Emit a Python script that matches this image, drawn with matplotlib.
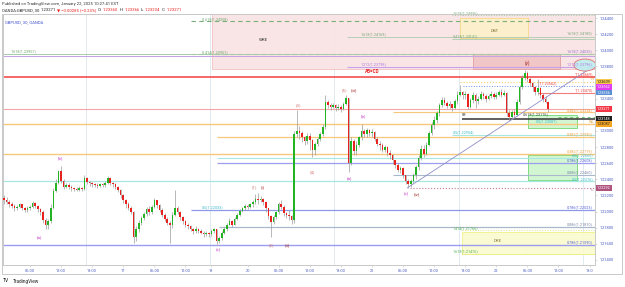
import matplotlib.pyplot as plt
from matplotlib.patches import Rectangle, Ellipse

plt.rcParams['font.family'] = ['Roboto', 'DejaVu Sans']

W, H = 625, 287

# GBPUSD 30m candles, index 0 = 16 Jan 01:00 EST, values are pips above 1.2000
first_open = 217
close_pips = [214, 212, 210, 207, 204, 206, 209, 205, 202, 204, 206, 211, 207, 203, 200, 190, 184, 188, 205, 226,
              236, 250, 238, 231, 233, 231, 229, 228, 227, 229, 228, 242, 237, 235, 234, 233, 232, 234, 233, 236,
              242, 236, 234, 231, 227, 220, 214, 210, 205, 200, 168, 178, 186, 192, 197, 203, 199, 206, 214, 208,
              202, 196, 191, 186, 183, 196, 205, 200, 193, 188, 184, 182, 179, 176, 178, 176, 174, 172, 173, 172,
              176, 178, 163, 167, 174, 178, 184, 188, 184, 191, 196, 201, 204, 207, 206, 209, 212, 216, 214, 216,
              212, 204, 195, 187, 193, 199, 209, 206, 198, 196, 194, 190, 296, 300, 297, 292, 288, 294, 289, 276,
              284, 290, 296, 305, 336, 332, 330, 332, 328, 330, 327, 334, 341, 260, 288, 275, 283, 292, 300, 296,
              301, 297, 299, 290, 284, 283, 277, 280, 273, 270, 264, 258, 252, 254, 245, 238, 234, 238, 246, 255,
              266, 278, 272, 283, 297, 307, 313, 322, 332, 338, 335, 331, 333, 329, 337, 345, 348, 344, 346, 330,
              338, 345, 337, 340, 346, 343, 340, 343, 346, 342, 345, 348, 345, 347, 322, 317, 323, 320, 336, 354,
              366, 372, 364, 360, 354, 348, 353, 345, 340, 336.0, 327.1]
high_pips = [220, 218, 214, 212, 209, 208, 211, 210, 206, 207, 208, 213, 212, 208, 204, 202, 192, 191, 209, 229,
             241, 252, 256, 240, 236, 235, 233, 231, 231, 232, 231, 245, 243, 238, 237, 236, 235, 236, 236, 238,
             244, 243, 237, 235, 232, 228, 222, 216, 212, 207, 201, 182, 190, 195, 200, 206, 207, 208, 217, 215,
             210, 204, 198, 193, 188, 199, 227, 207, 201, 195, 190, 186, 184, 180, 182, 180, 178, 176, 176, 175,
             178, 180, 178, 170, 176, 181, 186, 192, 190, 193, 198, 203, 206, 209, 209, 211, 214, 222, 223, 219,
             217, 213, 205, 196, 196, 201, 212, 214, 208, 200, 202, 196, 300, 326, 306, 300, 294, 297, 297, 290,
             286, 293, 299, 309, 345, 338, 335, 335, 334, 333, 332, 336, 345, 341, 292, 290, 287, 294, 309, 302,
             304, 303, 302, 300, 292, 287, 285, 283, 281, 276, 271, 264, 260, 257, 255, 246, 240, 240, 248, 258,
             270, 282, 283, 286, 300, 311, 318, 325, 335, 342, 342, 337, 337, 334, 339, 350, 357, 350, 349, 347,
             341, 348, 347, 343, 350, 348, 346, 346, 349, 348, 348, 351, 352, 351, 348, 326, 326, 327, 339, 357,
             369, 376, 374, 367, 361, 356, 365, 355, 347, 343, 336.6]
low_pips = [210, 209, 206, 204, 201, 202, 205, 202, 199, 200, 202, 205, 204, 200, 196, 186, 179, 178, 186, 203,
            224, 234, 236, 228, 229, 228, 226, 225, 225, 226, 225, 227, 234, 232, 231, 230, 229, 230, 230, 231,
            234, 233, 231, 228, 224, 217, 211, 205, 202, 197, 161, 164, 175, 183, 189, 194, 196, 197, 204, 205,
            199, 193, 188, 183, 161, 180, 194, 197, 190, 185, 181, 178, 176, 172, 173, 173, 172, 169, 170, 169,
            170, 174, 160, 161, 165, 172, 176, 183, 181, 183, 189, 194, 199, 202, 203, 204, 206, 210, 210, 212,
            208, 199, 191, 168, 185, 191, 197, 203, 195, 192, 190, 185, 186, 292, 290, 286, 283, 284, 276, 268,
            270, 281, 287, 294, 303, 328, 326, 328, 325, 326, 324, 326, 332, 249, 258, 270, 270, 280, 289, 292,
            293, 294, 292, 287, 281, 277, 274, 274, 269, 265, 259, 254, 249, 248, 242, 234, 229, 230, 236, 241,
            252, 264, 268, 270, 281, 295, 303, 310, 318, 330, 332, 328, 328, 325, 327, 334, 343, 340, 340, 327,
            328, 335, 328, 334, 338, 339, 336, 338, 341, 339, 340, 343, 342, 343, 319, 312, 315, 316, 318, 334,
            352, 363, 361, 356, 350, 345, 345, 341, 336, 335, 323.4]

# time axis
tick_idx = [10, 22, 34, 46, 58, 70, 80, 94, 106, 118, 130, 142, 154, 166, 178, 190, 202, 214, 226]
tick_lbl = ['06:00', '12:00', '18:00', '17', '06:00', '12:00', '19', '20', '06:00', '12:00', '18:00', '21',
            '06:00', '12:00', '18:00', '22', '06:00', '12:00', '18:0']
session_idx = [32, 80, 128, 176, 224]
price_ticks = [1.244, 1.242, 1.240, 1.238, 1.234, 1.230, 1.228, 1.226, 1.224, 1.222, 1.220, 1.218, 1.216, 1.214]

# horizontal drawings: price, first candle, last candle
lvl_price = [1.24358, 1.23951, 1.23957, 1.23935, 1.24169, 1.24141, 1.24436, 1.23797, 1.23669, 1.23609,
             1.23557, 1.23470, 1.23271, 1.23234, 1.23148, 1.23176, 1.23087, 1.22954, 1.22930, 1.22719,
             1.22665, 1.22608, 1.22460, 1.22376, 1.22292, 1.22023, 1.21810, 1.21590, 1.21766, 1.21476]
lvl_from = [72, 72, -1, -1, 132.5, 173, 173, 132.5, -1, 176, 177, 206, -1, 150, 176.8, 214, -1, 173, 82, -1,
            82, 82, 150, -1, 156.7, 72, 83, -1, 176.8, 176.8]
lvl_to = [229] * 30

# fib / level captions: text, candle, price
cap_text = ['-0.618(1.24358)', '-0.414(1.23951)', '1.618(1.23957)', '1.618(1.24169)', '0.414(1.24141)',
            '1.618(1.24180)', '1.618(1.24436)', '1.618(1.24025)', '1.272(1.23798)', '1.272(1.23796)',
            '1(1.23669)', '1(1.23562)', '1(1.23470)', '0.382(1.23234)', '0.618(1.23176)', '0.5(1.23087)',
            '0.5(1.22954)', '0.382(1.22930)', '0.382(1.22719)', '0.5(1.22665)', '0.786(1.22608)',
            '0.886(1.22460)', '0.5(1.22376)', '0.5(1.22033)', '0.786(1.22023)', '0.886(1.21810)',
            '1.414(1.21766)', '0.786(1.21590)', '1.618(1.21476)']
cap_idx = [76.4, 76.4, 2.6, 137.6, 173.3, 227.3, 173.3, 227.3, 137.6, 227.3,
           227.3, 213.5, 227.3, 227.3, 200.3, 213.5, 173.3, 227.3, 227.3, 227.3, 227.3,
           227.3, 227.3, 76.4, 227.3, 227.3, 173.3, 227.3, 173.3]
cap_price = [1.24358, 1.23951, 1.23957, 1.24169, 1.24141, 1.24180, 1.24436, 1.23957, 1.23797, 1.23797,
             1.23669, 1.23557, 1.23470, 1.23234, 1.23176, 1.23087, 1.22954, 1.22930, 1.22719, 1.22665,
             1.22608, 1.22460, 1.22376, 1.22023, 1.22023, 1.21810, 1.21766, 1.21590, 1.21476]

# boxes: first candle, last candle, bottom price, top price, caption
box_from = [80.3, 176, 181, 202.3, 202.3, 176.8]
box_to = [229, 202.3, 214.6, 221.2, 221.2, 229]
box_low = [1.23768, 1.24152, 1.23768, 1.23036, 1.22392, 1.21474]
box_high = [1.2450, 1.2440, 1.23954, 1.23198, 1.22702, 1.21747]
box_text = ['WRE', 'DRE', '(v)', '', '', 'DRE']

# elliott wave captions: text, candle, price
wave_text = ['(a)', '(b)', '(c)', '(1)', '(i)', '(2)', '(ii)', '(3)', '(4)', '(5)', '(iii)',
             '(a)', '(b)', '(c)', '(iv)']
wave_idx = [13.7, 21.6, 82.7, 96.6, 99.8, 103.4, 109.4, 113.5, 118.9, 131.4, 135.2, 133.5, 138.6, 155.4, 159.4]
wave_price = [1.21673, 1.22665, 1.21524, 1.22305, 1.22305, 1.21586, 1.21586, 1.23322, 1.22491, 1.23507,
              1.23507, 1.22404, 1.23185, 1.22218, 1.22218]

# axis tags: price, text
tag_price = [1.23609, 1.23562, 1.23556, 1.23271, 1.23148, 1.23087, 1.22292]
tag_text = ['1.23609', '1.23562', '1.23556', '1.23271', '1.23148', '1.23087', '1.22292']

# trend line from the (iv) low to the ellipse
trend_idx = [155.6, 227.4]
trend_price = [1.22293, 1.23799]

# ------------------------------------------------------------------
fig = plt.figure(figsize=(W / 100, H / 100), dpi=100)
ax = fig.add_axes([3 / W, 1 - 265 / H, 592 / W, 251 / H])
ax.set_xlim(-0.42, 228.1)
ax.set_ylim(1.21338, 1.24450)

for s in ax.spines.values():
    s.set_color('#c9c9c9')
    s.set_linewidth(0.7)

ax.set_xticks(tick_idx)
ax.set_xticklabels(tick_lbl)
ax.yaxis.tick_right()
ax.set_yticks(price_ticks)
ax.set_yticklabels(['%.5f' % p for p in price_ticks])
ax.tick_params(axis='both', labelsize=2.9, colors='#c0c0c0', labelcolor='#4a5cc0', length=1.5, width=0.4, pad=1.6)

for i in session_idx:
    ax.axvline(i - 0.5, color='#dbe6ef', lw=0.6, zorder=0)

# boxes
box_face = ['#f9e3e3', '#fdf1c9', '#f1c3c3', '#cdf5cd', '#cdf5cd', '#fbfbcf']
box_edge = ['#f1bcbc', '#f5d77d', '#e09a9a', '#63d463', '#63d463', '#eef07f']
for k in range(len(box_from)):
    ax.add_patch(Rectangle((box_from[k], box_low[k]), box_to[k] - box_from[k], box_high[k] - box_low[k],
                           facecolor=box_face[k], edgecolor=box_edge[k], lw=0.6, alpha=0.9, zorder=1))
ax.text(100, 1.24127, box_text[0], fontsize=3.2, color='#333', ha='center', va='center', zorder=6)
ax.text(189.5, 1.24235, box_text[1], fontsize=3.2, color='#8a7a40', ha='center', va='center', style='italic',
        zorder=6)
ax.text(201.9, 1.23842, box_text[2], fontsize=3.4, color='#a01818', ha='center', va='center', zorder=6)
ax.text(190.5, 1.21640, box_text[5], fontsize=3.2, color='#8a7a40', ha='center', va='center', zorder=6)

# level lines
lvl_style = [('#79b079', 0.8, (0, (4, 3))), ('#79b079', 0.8, (0, (4, 3))), ('#a9cba9', 0.7, '-'),
             ('#c8a0e6', 0.7, '-'), ('#b5cfb5', 0.7, '-'), ('#b5cfb5', 0.7, '-'), ('#a9cba9', 0.7, ':'),
             ('#c6a2ee', 0.8, '-'), ('#f45a5a', 1.3, '-'), ('#f6cf62', 0.8, ':'), ('#6b8fe0', 0.7, ':'),
             ('#f27c7c', 0.8, '-'), ('#f4a6a6', 0.8, '-'), ('#f7c77c', 0.8, '-'), ('#333333', 1.1, '-'),
             ('#6cc46c', 0.7, (0, (3, 3))), ('#f7c77c', 1.0, '-'), ('#a6e8df', 0.8, '-'), ('#f7c77c', 0.9, '-'),
             ('#f7c77c', 1.0, '-'), ('#a6e8df', 0.8, '-'), ('#9c9cf0', 0.9, '-'), ('#aab8cd', 0.8, '-'),
             ('#a6e8df', 0.9, '-'), ('#c47a9c', 0.8, ':'), ('#8e98e8', 0.9, '-'), ('#aab8cd', 0.9, '-'),
             ('#9c9cf0', 1.0, '-'), ('#dfe77f', 0.7, ':'), ('#dfe77f', 0.7, ':')]
for k, p in enumerate(lvl_price):
    col, lw, ls = lvl_style[k]
    ax.hlines(p, lvl_from[k], lvl_to[k], color=col, lw=lw, linestyle=ls, zorder=2)

ax.plot(trend_idx, trend_price, color='#8f8fc9', lw=0.6, zorder=5)
ax.add_patch(Ellipse((224.2, 1.23817), 8.5, 0.00149, facecolor='#bfeef0', edgecolor='#e46060', lw=0.6,
                     alpha=0.9, zorder=5))

# candles
opens = [first_open] + close_pips[:-1]
idx = list(range(len(close_pips)))
o_ = [1.2 + v / 10000 for v in opens]
c_ = [1.2 + v / 10000 for v in close_pips]
h_ = [max(1.2 + v / 10000, a, b) for v, a, b in zip(high_pips, o_, c_)]
l_ = [min(1.2 + v / 10000, a, b) for v, a, b in zip(low_pips, o_, c_)]
ax.vlines(idx, l_, h_, color='#9b9b9b', lw=0.5, zorder=3)
body_col = ['#22b422' if c >= o else '#e8231f' for o, c in zip(o_, c_)]
body_h = [max(abs(c - o), 0.00003) for o, c in zip(o_, c_)]
ax.bar(idx, body_h, bottom=[min(o, c) for o, c in zip(o_, c_)], width=0.62, color=body_col, lw=0, zorder=4)

# captions of levels
cap_col = ['#6ea66e', '#6ea66e', '#6ea66e', '#7aaa7a', '#7aaa7a', '#7aaa7a', '#7aaa7a', '#9a7ad0', '#b27ee0',
           '#b27ee0', '#ee4444', '#ee4444', '#ee4444', '#f0a040', '#444444', '#40bccc', '#40bccc', '#f0a040',
           '#f0a040', '#40bccc', '#5560d8', '#7d8aa8', '#40bccc', '#40bccc', '#5560d8', '#7d8aa8', '#5ab45a',
           '#5560d8', '#5ab45a']
for k, t in enumerate(cap_text):
    ha = 'right' if cap_idx[k] > 210 else 'left'
    ax.text(cap_idx[k], cap_price[k] + 0.00005, t, fontsize=2.7, color=cap_col[k], ha=ha, va='bottom', zorder=6)

ax.text(142, 1.23700, 'AB=CD', fontsize=3.3, color='#e82020', ha='center', va='bottom', zorder=6,
        fontweight='bold')
for t, p, va in zip(['YH', 'WL', 'YL'], [1.23609, 1.23087, 1.22292], ['bottom', 'bottom', 'top']):
    ax.text(228, p + (0.00005 if va == 'bottom' else -0.00005), t, fontsize=2.8,
            color='#e0a040' if t != 'YL' else '#c47a9c', ha='right', va=va, zorder=6)
ax.text(176.8, 1.23175, '09', fontsize=2.8, color='#222', ha='left', va='bottom', zorder=6)

wave_col = ['#c233c2', '#c233c2', '#c233c2', '#d27b7b', '#a01818', '#d27b7b', '#a01818', '#d27b7b', '#d27b7b',
            '#d27b7b', '#a01818', '#c233c2', '#c233c2', '#c233c2', '#a01818']
for t, i, p, col in zip(wave_text, wave_idx, wave_price, wave_col):
    ax.text(i, p, t, fontsize=3.2, color=col, ha='center', va='center', zorder=6)

# right axis tags
tag_face = ['#f7c948', '#e23ef0', '#5b8fd6', '#f23645', '#1e1e1e', '#f5a524', '#b0527e']
tag_tc = ['#222', 'white', 'white', 'white', 'white', '#222', 'white']
tag_shift = [0, -1.2, -6.5, 0, 0, 0, 0]
for p, t, fc, tc, sh in zip(tag_price, tag_text, tag_face, tag_tc, tag_shift):
    y = p + sh / 8067
    ax.add_patch(Rectangle((228.3, y - 0.00035), 6.2, 0.0007, facecolor=fc, edgecolor='none',
                           clip_on=False, zorder=7))
    ax.text(231.4, y, t, fontsize=2.7, color=tc, ha='center', va='center', clip_on=False, zorder=8)

ax.text(0.004, 0.975, 'GBPUSD, 30, OANDA', transform=ax.transAxes, fontsize=3.0, color='#3f51d0',
        ha='left', va='top', zorder=8)

# outer frame around chart and axes
fig.patches.append(Rectangle((2 / W, 1 - 274 / H), 620 / W, 260 / H, transform=fig.transFigure,
                             fill=False, edgecolor='#c9c9c9', lw=0.7))

# header
renderer = fig.canvas.get_renderer()


def run(x, y, pieces, size):
    for s, c in pieces:
        t = fig.text(x / W, 1 - y / H, s, color=c, fontsize=size, ha='left', va='center')
        x += t.get_window_extent(renderer=renderer).width + 1.2


run(2, 4, [('Published on TradingView.com, January 22, 2025 10:27:41 EST', '#333')], 3.0)
run(2, 10, [('OANDA:GBPUSD, 30', '#222'), ('1.23271', '#222'), ('\u25bc \u22120.00285 (\u22120.23%)', '#e8231f'),
            ('O:', '#222'), ('1.23360', '#e8231f'), ('H:', '#222'), ('1.23366', '#e8231f'),
            ('L:', '#222'), ('1.23234', '#e8231f'), ('C:', '#222'), ('1.23271', '#e8231f')], 3.0)
run(3, 281, [('TV', '#111')], 3.6)
run(13, 281, [('TradingView', '#222')], 3.4)

fig.savefig('out.png', dpi=100)
